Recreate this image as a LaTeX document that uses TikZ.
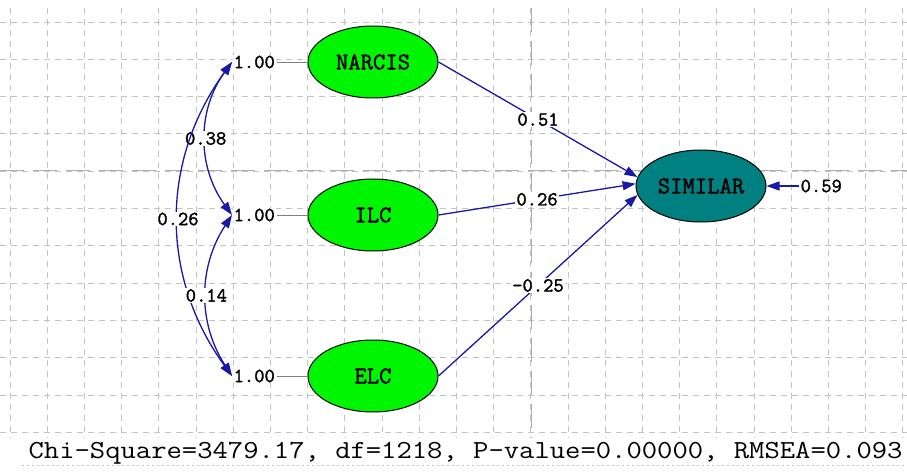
\documentclass[tikz,border=0pt]{standalone}
\usepackage{fontspec}
\setmonofont[AutoFakeBold=1.6]{Latin Modern Mono}
\usepackage{tikz}
\usetikzlibrary{arrows.meta,shapes.geometric,calc}

\definecolor{latgreen}{RGB}{0,245,0}
\definecolor{endoteal}{RGB}{0,128,128}
\definecolor{pathblue}{RGB}{25,25,165}
\definecolor{gridgray}{RGB}{195,195,195}

\begin{document}
\begin{tikzpicture}[x=1pt,y=-1pt,>={Triangle[length=13pt,width=9pt]},line width=1.3pt]
	\tikzstyle{latent}=[ellipse, draw=black, line width=1pt, fill=latgreen, minimum width=130pt, minimum height=72pt, inner sep=0pt, font=\fontsize{24}{28}\ttfamily\bfseries]
	\tikzstyle{coef}=[fill=white, inner sep=1pt, text=black, font=\fontsize{20}{24}\ttfamily\bfseries]
	\tikzstyle{gridline}=[gridgray, line width=0.8pt, dash pattern=on 6pt off 5pt]
	\tikzstyle{axisline}=[gridgray!90!black, line width=1pt, dash pattern=on 24pt off 9pt]
	\useasboundingbox (0,0) rectangle (907,473);

	% background grid
	\foreach \gx in {0,...,24}
		\draw[gridline] ({10+37.2*\gx},8) -- ({10+37.2*\gx},438);
	\foreach \gy in {0,...,11}
		\draw[gridline] (0,{22+37.3*\gy}) -- (907,{22+37.3*\gy});
	\draw[axisline] (531,8) -- (531,438);
	\draw[axisline] (0,171) -- (907,171);
	\draw[gridgray, line width=0.8pt, dash pattern=on 2pt off 3pt] (22,465) -- (907,465);

	% latent variables
	\node[latent]                 (NARCIS)  at (373,62)  {NARCIS};
	\node[latent]                 (ILC)     at (373,215) {ILC};
	\node[latent]                 (ELC)     at (373,376) {ELC};
	\node[latent, fill=endoteal]  (SIMILAR) at (701,186) {SIMILAR};

	% variances and error term
	\node[coef, anchor=west] (varN) at (232,62)  {1.00};
	\node[coef, anchor=west] (varI) at (232,215) {1.00};
	\node[coef, anchor=west] (varE) at (232,376) {1.00};
	\node[coef, anchor=west] (errS) at (799,186) {0.59};

	\draw[gray, line width=0.8pt] (varN) -- (NARCIS);
	\draw[gray, line width=0.8pt] (varI) -- (ILC);
	\draw[gray, line width=0.8pt] (varE) -- (ELC);

	\path[->, pathblue]
		(NARCIS.east) edge node[coef] {0.51} (SIMILAR.172)
		(ILC.east)    edge node[coef] {0.26} (SIMILAR.178)
		(ELC.east)    edge node[coef] {-0.25} (SIMILAR.188)
		(errS)        edge (SIMILAR.east);

	% covariances
	\path[<->, pathblue]
		(varN.west) edge[bend right=36] node[coef] {0.38} (varI.west)
		(varN.west) edge[bend right=36] node[coef] {0.26} (varE.west)
		(varI.west) edge[bend right=33] node[coef] {0.14} (varE.west);

	\node[anchor=base west, inner sep=0pt, font=\fontsize{26}{30}\ttfamily] (fit) at (28,458)
		{\scalebox{1.145}[1]{Chi-Square=3479.17, df=1218, P-value=0.00000, RMSEA=0.093}};
\end{tikzpicture}
\end{document}
